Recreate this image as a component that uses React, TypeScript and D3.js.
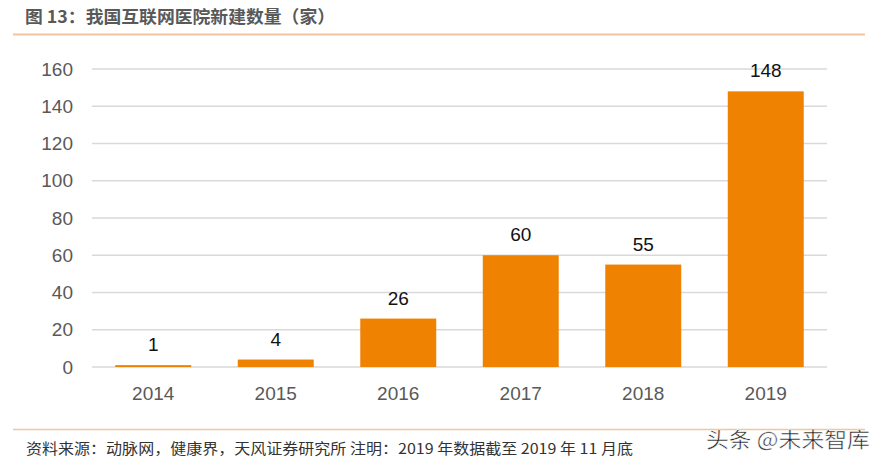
import React from "react";
import * as d3 from "d3";

const categories = ["2014", "2015", "2016", "2017", "2018", "2019"];
const values = [1, 4, 26, 60, 55, 148];
const yTicks = [0, 20, 40, 60, 80, 100, 120, 140, 160];
const title = "图 13：我国互联网医院新建数量（家）";
const source = "资料来源：动脉网，健康界，天风证券研究所  注明：2019 年数据截至 2019 年 11 月底";
const watermark = "头条 @未来智库";

export default function App() {
  const W = 883, H = 466;
  const left = 92, right = 827, top = 69, bottom = 367;
  const x = d3.scaleBand<string>().domain(categories).range([left, right]).paddingInner(0.38).paddingOuter(0.19);
  const y = d3.scaleLinear().domain([0, 160]).range([bottom, top]);
  const font = "'Liberation Sans', Arial, sans-serif";
  const cjk = "'Noto Sans CJK SC', sans-serif";
  return (
    <svg width={W} height={H} style={{ position: "absolute", left: 0, top: 0, background: "#fff" }}>
      <rect x={0} y={0} width={W} height={H} fill="#fff" />
      <text x={25} y={23} fontFamily={cjk} fontWeight="bold" fontSize={17.5} fill="#595959" textLength={310} lengthAdjust="spacingAndGlyphs">{title}</text>
      <line x1={13} x2={865} y1={34.5} y2={34.5} stroke="#f3c59c" strokeWidth={2} />
      {yTicks.map(t => (
        <g key={t}>
          <line x1={left} x2={right} y1={y(t)} y2={y(t)} stroke="#d9d9d9" strokeWidth={1.3} />
          <text x={73} y={y(t)} dy="0.35em" textAnchor="end" fontFamily={font} fontSize={19} fill="#595959">{t}</text>
        </g>
      ))}
      {categories.map((c, i) => (
        <g key={c}>
          <rect x={x(c)} y={y(values[i])} width={x.bandwidth()} height={y(0) - y(values[i])} fill="#ef8200" />
          <text x={(x(c) as number) + x.bandwidth() / 2} y={y(values[i]) - 14} textAnchor="middle" fontFamily={font} fontSize={19} fill="#111">{values[i]}</text>
          <text x={(x(c) as number) + x.bandwidth() / 2} y={393} dy="0.35em" textAnchor="middle" fontFamily={font} fontSize={19} fill="#595959">{c}</text>
        </g>
      ))}
      <line x1={13} x2={865} y1={429.5} y2={429.5} stroke="#f3c59c" strokeWidth={1.5} />
      <text x={26} y={454} fontFamily={cjk} fontSize={14.5} fill="#333" textLength={607} lengthAdjust="spacingAndGlyphs">{source}</text>
      <text x={706} y={447} fontFamily={cjk} fontSize={21} fill="#222" stroke="#fff" strokeWidth={0.5} textLength={164} lengthAdjust="spacingAndGlyphs">{watermark}</text>
    </svg>
  );
}
